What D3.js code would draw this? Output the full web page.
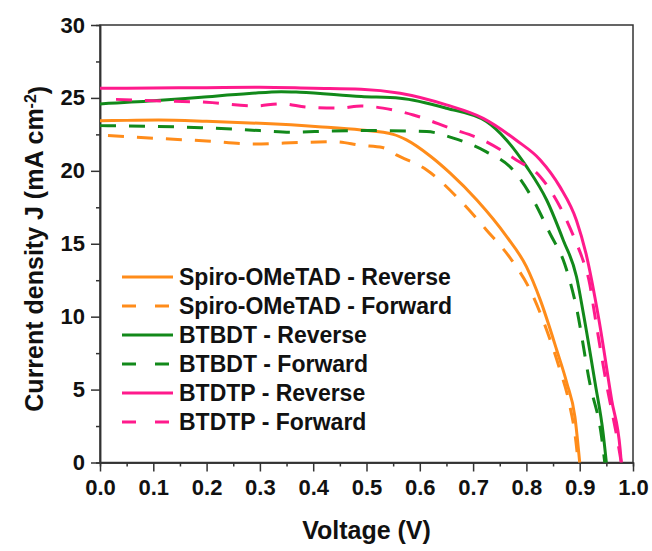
<!DOCTYPE html>
<html>
<head>
<meta charset="utf-8">
<script src="https://cdn.jsdelivr.net/npm/d3@7"></script>
<style>
  body { margin: 0; background: #fff; }
  text { font-family: 'Liberation Sans', Arial, sans-serif; font-weight: bold; fill: #111; }
  .axis path, .axis line { stroke: #333; stroke-width: 1.5; }
  .line { fill: none; stroke-width: 3; }
</style>
</head>
<body>
<div id="jv-chart"></div>
<script>
// J-V curves, [voltage (V), current density (mA cm-2)]
const spiroReverse = [[0, 23.44], [0.05, 23.46], [0.11, 23.48], [0.2, 23.4], [0.3, 23.26], [0.41, 23.03], [0.49, 22.8], [0.55, 22.5], [0.575, 22.12], [0.62, 21.0], [0.657, 19.84], [0.707, 18.0], [0.763, 15.49], [0.8, 13.43], [0.826, 11.15], [0.857, 7.7], [0.876, 5.43], [0.891, 3.14], [0.9, 0]]
const spiroForward = [[0.015, 22.42], [0.1, 22.24], [0.2, 22.05], [0.29, 21.84], [0.38, 21.95], [0.44, 22.0], [0.49, 21.75], [0.53, 21.6], [0.556, 21.09], [0.613, 20.06], [0.675, 18.0], [0.725, 15.95], [0.772, 13.9], [0.807, 11.83], [0.838, 9.09], [0.863, 6.34], [0.879, 4.29], [0.894, 1.08], [0.897, 0]]
const btbdtReverse = [[0, 24.59], [0.1, 24.8], [0.19, 25.05], [0.28, 25.3], [0.34, 25.43], [0.375, 25.39], [0.49, 25.1], [0.563, 24.98], [0.65, 24.29], [0.725, 23.38], [0.763, 22.1], [0.8, 20.3], [0.838, 18.0], [0.869, 15.26], [0.894, 12.74], [0.907, 10.2], [0.929, 5.43], [0.944, 2.0], [0.95, 0]]
const btbdtForward = [[0, 23.1], [0.19, 22.96], [0.3, 22.76], [0.36, 22.65], [0.43, 22.72], [0.5, 22.76], [0.613, 22.69], [0.663, 22.24], [0.725, 21.3], [0.775, 20.06], [0.813, 18.0], [0.844, 15.72], [0.872, 13.6], [0.894, 10.6], [0.919, 5.43], [0.941, 1.77], [0.947, 0]]
const btdtpReverse = [[0, 25.66], [0.1, 25.68], [0.2, 25.7], [0.3, 25.73], [0.4, 25.66], [0.49, 25.6], [0.563, 25.32], [0.65, 24.52], [0.719, 23.6], [0.781, 22.1], [0.826, 20.75], [0.863, 18.9], [0.894, 16.6], [0.912, 14.3], [0.936, 9.8], [0.96, 4.29], [0.976, 0.86], [0.978, 0]]
const btdtpForward = [[0.03, 24.9], [0.1, 24.8], [0.2, 24.7], [0.29, 24.45], [0.34, 24.6], [0.39, 24.36], [0.45, 24.3], [0.49, 24.45], [0.531, 24.3], [0.588, 23.83], [0.657, 22.92], [0.719, 22.1], [0.781, 20.75], [0.826, 19.6], [0.863, 17.54], [0.894, 15.03], [0.904, 14.1], [0.919, 12.2], [0.927, 10.4], [0.95, 5.43], [0.972, 1.3], [0.978, 0]]

const seriesNames = ['Spiro-OMeTAD - Reverse', 'Spiro-OMeTAD - Forward', 'BTBDT - Reverse', 'BTBDT - Forward', 'BTDTP - Reverse', 'BTDTP - Forward']
const seriesData = [spiroReverse, spiroForward, btbdtReverse, btbdtForward, btdtpReverse, btdtpForward]
const seriesColors = ['#ff8c1a', '#ff8c1a', '#12891a', '#12891a', '#ff1a8c', '#ff1a8c']
const seriesDashed = [false, true, false, true, false, true]

const xTicks = [0, 0.1, 0.2, 0.3, 0.4, 0.5, 0.6, 0.7, 0.8, 0.9, 1.0]
const yTicks = [0, 5, 10, 15, 20, 25, 30]

var margin = { top: 25, right: 19, bottom: 88.5, left: 100 }
var width = 652 - margin.left - margin.right
var height = 551 - margin.top - margin.bottom

var xScale = d3.scaleLinear().domain([0, 1]).range([0, width])
var yScale = d3.scaleLinear().domain([0, 30]).range([height, 0])

var svg = d3.select('#jv-chart').append('svg')
  .attr('width', 652)
  .attr('height', 551)
  .append('g')
  .attr('transform', 'translate(' + margin.left + ',' + margin.top + ')')

// minor ticks first, then major ticks with labels
svg.append('g')
  .attr('class', 'axis')
  .attr('transform', 'translate(0,' + height + ')')
  .call(d3.axisBottom(xScale).tickValues(d3.range(0.05, 1, 0.1)).tickSize(4).tickFormat(''))
svg.append('g')
  .attr('class', 'axis')
  .call(d3.axisLeft(yScale).tickValues(d3.range(2.5, 30, 5)).tickSize(4).tickFormat(''))

var xAxis = svg.append('g')
  .attr('class', 'axis')
  .attr('transform', 'translate(0,' + height + ')')
  .call(d3.axisBottom(xScale).tickValues(xTicks).tickSize(9).tickSizeOuter(0).tickPadding(8).tickFormat(d3.format('.1f')))
xAxis.selectAll('text').style('font-size', '22px')

var yAxis = svg.append('g')
  .attr('class', 'axis')
  .call(d3.axisLeft(yScale).tickValues(yTicks).tickSize(9).tickSizeOuter(0).tickPadding(6).tickFormat(d3.format('d')))
yAxis.selectAll('text').style('font-size', '22px')

// box frame
svg.append('rect')
  .attr('width', width)
  .attr('height', height)
  .attr('fill', 'none')
  .attr('stroke', '#333')
  .attr('stroke-width', 1.5)

var line = d3.line()
  .x(d => xScale(d[0]))
  .y(d => yScale(d[1]))
  .curve(d3.curveMonotoneX)

svg.selectAll('.line')
  .data(seriesData)
  .enter().append('path')
  .attr('class', 'line')
  .attr('stroke', (d, i) => seriesColors[i])
  .attr('stroke-dasharray', (d, i) => seriesDashed[i] ? '16,13' : null)
  .attr('d', line)

// legend
var legend = svg.selectAll('.legend')
  .data(seriesNames)
  .enter().append('g')
  .attr('class', 'legend')
  .attr('transform', (d, i) => 'translate(22,' + (252 + i * 29) + ')')

legend.append('line')
  .attr('x1', 0)
  .attr('x2', 51)
  .attr('stroke', (d, i) => seriesColors[i])
  .attr('stroke-width', 3)
  .attr('stroke-dasharray', (d, i) => seriesDashed[i] ? '14,19' : null)

legend.append('text')
  .attr('x', 57)
  .attr('dy', '0.36em')
  .style('font-size', '23px')
  .text(d => d)

// axis titles
svg.append('text')
  .attr('x', width / 2)
  .attr('y', height + 76)
  .attr('text-anchor', 'middle')
  .style('font-size', '25px')
  .text('Voltage (V)')

var yTitle = svg.append('text')
  .attr('transform', 'translate(-57,' + (height / 2 + 5) + ') rotate(-90)')
  .attr('text-anchor', 'middle')
  .style('font-size', '25px')
yTitle.append('tspan').text('Current density J (mA cm')
yTitle.append('tspan').attr('dy', '-0.45em').style('font-size', '16px').text('-2')
yTitle.append('tspan').attr('dy', '0.45em').text(')')
</script>
</body>
</html>
